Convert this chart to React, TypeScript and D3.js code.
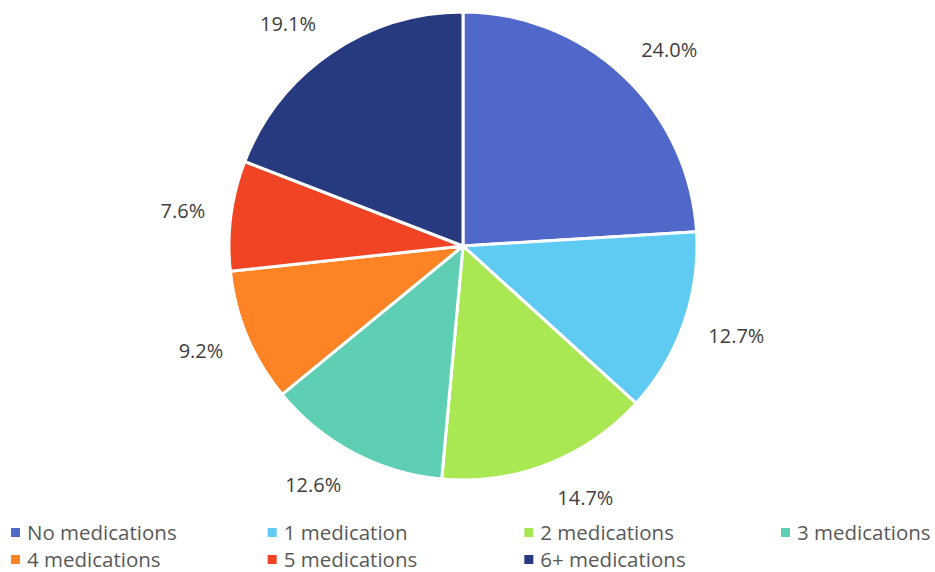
import React from "react";
import * as d3 from "d3";

const categories = ["No medications", "1 medication", "2 medications", "3 medications", "4 medications", "5 medications", "6+ medications"];
const values = [24.0, 12.7, 14.7, 12.6, 9.2, 7.6, 19.1];
const labels = ["24.0%", "12.7%", "14.7%", "12.6%", "9.2%", "7.6%", "19.1%"];
const colors = ["#5068C9", "#5FCBF3", "#A9E853", "#5ECFB4", "#FD8324", "#F04424", "#27397F"];

const W = 935;
const H = 572;
const cx = 463;
const cy = 246;
const R = 234;
const labelR = 260;
const labelFont = 20;
const labelH = 20;

function textWidth(s: string, fs: number) {
  let w = 0;
  for (const ch of s) {
    if (ch === ".") w += 0.266;
    else if (ch === "%") w += 0.823;
    else w += 0.572;
  }
  return w * fs;
}

export default function App() {
  const pie = d3.pie<number>().sort(null).value((d) => d)(values);
  const arc = d3.arc<d3.PieArcDatum<number>>().innerRadius(0).outerRadius(R);
  const font = "'Open Sans', 'Liberation Sans', Arial, sans-serif";
  const colX = d3.scalePoint<number>().domain([0, 1, 2, 3]).range([11, 781]);
  return (
    <svg width={W} height={H} style={{ position: "absolute", left: 0, top: 0, background: "#fff" }}>
      <g transform={`translate(${cx},${cy})`}>
        {pie.map((p, i) => (
          <path key={i} d={arc(p) || ""} fill={colors[i]} stroke="#fff" strokeWidth={3} strokeLinejoin="round" />
        ))}
        {pie.map((p, i) => {
          const a = (p.startAngle + p.endAngle) / 2;
          const ux = Math.sin(a);
          const uy = -Math.cos(a);
          const w = textWidth(labels[i], labelFont);
          const x = labelR * ux + Math.sign(ux) * w / 2;
          const y = labelR * uy + uy * labelH / 2;
          return (
            <text key={i} x={x} y={y} textAnchor="middle" dominantBaseline="central" fontFamily={font} fontSize={labelFont} fill="#404040">
              {labels[i]}
            </text>
          );
        })}
      </g>
      <g>
        {categories.map((c, i) => {
          const col = i % 4;
          const row = Math.floor(i / 4);
          const x = colX(col) as number;
          const y = 540 + row * 27;
          return (
            <g key={c}>
              <rect x={x} y={y - 12} width={9} height={9} fill={colors[i]} />
              <text x={x + 16} y={y} fontFamily={font} fontSize={20.5} fill="#595959">
                {c}
              </text>
            </g>
          );
        })}
      </g>
    </svg>
  );
}
